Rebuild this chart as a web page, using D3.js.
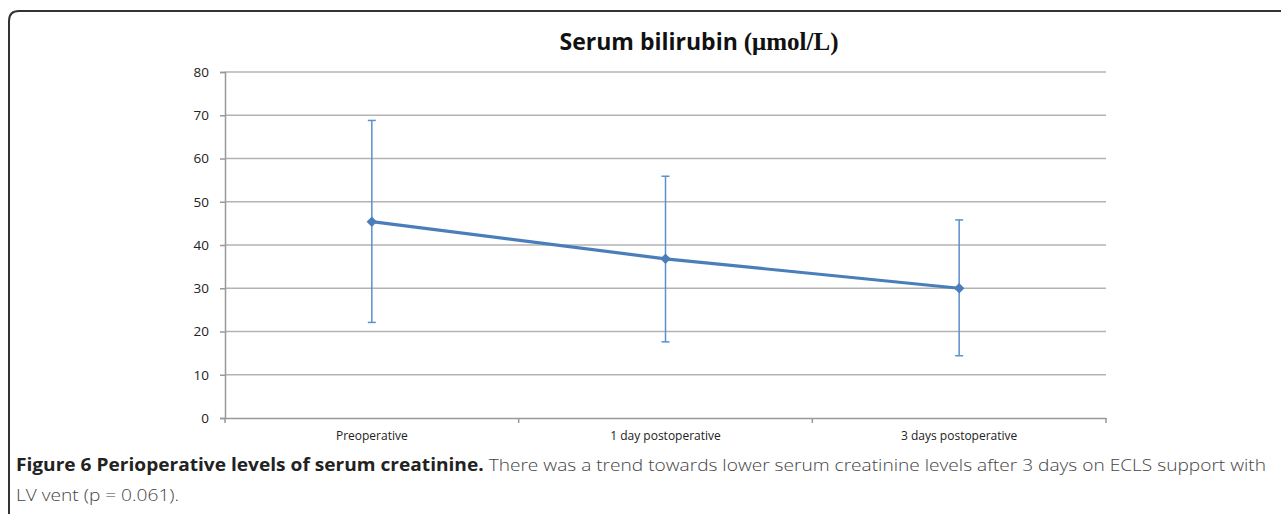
<!DOCTYPE html>
<html>
<head>
<meta charset="utf-8">
<script src="https://cdn.jsdelivr.net/npm/d3@7"></script>
<style>
  body { margin: 0; background: #fff; }
  svg { display: block; }
</style>
</head>
<body>
<svg id="chart" width="1281" height="514"></svg>
<script>
// data
const categories = ["Preoperative", "1 day postoperative", "3 days postoperative"];
const means = [45.4, 36.8, 30.0];
const upper = [68.8, 55.9, 45.8];
const lower = [22.1, 17.6, 14.4];
const yTicks = [0, 10, 20, 30, 40, 50, 60, 70, 80];

const svg = d3.select("#chart");

// outer frame (rounded box running off the right / bottom)
svg.append("path")
  .attr("d", "M9,530 L9,21 Q9,11 19,11 L1300,11")
  .attr("fill", "none")
  .attr("stroke", "#333")
  .attr("stroke-width", 2);

const margin = { left: 225, right: 1106, top: 72, bottom: 418 };

const x = d3.scaleBand()
  .domain(categories)
  .range([margin.left, margin.right]);

const y = d3.scaleLinear()
  .domain([0, 80])
  .range([margin.bottom, margin.top]);

// gridlines
svg.append("g")
  .selectAll("line")
  .data(yTicks.filter(d => d > 0))
  .join("line")
  .attr("x1", margin.left)
  .attr("x2", margin.right)
  .attr("y1", d => y(d))
  .attr("y2", d => y(d))
  .attr("stroke", "#b3b3b3")
  .attr("stroke-width", 1.5);

// y axis
const yAxis = svg.append("g")
  .attr("transform", "translate(" + margin.left + ",0)")
  .call(d3.axisLeft(y).tickValues(yTicks).tickSize(5).tickPadding(11));
yAxis.select(".domain").attr("stroke", "#999").attr("stroke-width", 1.5);
yAxis.selectAll(".tick line").attr("stroke", "#999").attr("stroke-width", 1.5);
yAxis.selectAll("text")
  .attr("font-family", "'Open Sans', sans-serif")
  .attr("font-size", 13.5)
  .attr("fill", "#222");

// x axis (ticks sit between categories)
const xAxis = svg.append("g")
  .attr("transform", "translate(0," + margin.bottom + ")")
  .call(d3.axisBottom(x).tickSize(0).tickPadding(13));
xAxis.select(".domain").attr("stroke", "#999").attr("stroke-width", 1.5);
xAxis.selectAll("text")
  .attr("font-family", "'Open Sans', sans-serif")
  .attr("font-size", 12)
  .attr("fill", "#222");
const bounds = categories.map(c => x(c)).concat([x(categories[categories.length - 1]) + x.bandwidth()]);
svg.append("g")
  .selectAll("line")
  .data(bounds)
  .join("line")
  .attr("x1", d => d)
  .attr("x2", d => d)
  .attr("y1", margin.bottom)
  .attr("y2", margin.bottom + 5)
  .attr("stroke", "#999")
  .attr("stroke-width", 1.5);

const cx = c => x(c) + x.bandwidth() / 2;

// error bars
const eb = svg.append("g").attr("stroke", "#5b8fcf").attr("stroke-width", 1.5);
categories.forEach((c, i) => {
  eb.append("line").attr("x1", cx(c)).attr("x2", cx(c)).attr("y1", y(upper[i])).attr("y2", y(lower[i]));
  eb.append("line").attr("x1", cx(c) - 4).attr("x2", cx(c) + 4).attr("y1", y(upper[i])).attr("y2", y(upper[i]));
  eb.append("line").attr("x1", cx(c) - 4).attr("x2", cx(c) + 4).attr("y1", y(lower[i])).attr("y2", y(lower[i]));
});

// mean line
const line = d3.line()
  .x((d, i) => cx(categories[i]))
  .y(d => y(d));
svg.append("path")
  .datum(means)
  .attr("d", line)
  .attr("fill", "none")
  .attr("stroke", "#4a7ebb")
  .attr("stroke-width", 3.2);

svg.append("g")
  .selectAll("path")
  .data(means)
  .join("path")
  .attr("d", d3.symbol(d3.symbolDiamond2, 70))
  .attr("transform", (d, i) => "translate(" + cx(categories[i]) + "," + y(d) + ")")
  .attr("fill", "#4a7ebb");

// title
const title = svg.append("text")
  .attr("x", 699)
  .attr("y", 50)
  .attr("text-anchor", "middle")
  .attr("font-weight", "bold")
  .attr("fill", "#111");
title.append("tspan").attr("font-family", "'Open Sans', sans-serif").attr("font-size", 23).text("Serum bilirubin ");
title.append("tspan").attr("font-family", "'Liberation Serif', serif").attr("font-size", 25).text("(μmol/L)");

// caption
const cap1 = svg.append("text")
  .attr("x", 16)
  .attr("y", 471)
  .attr("font-family", "'Open Sans', sans-serif")
  .attr("font-size", 17);
cap1.append("tspan").attr("font-weight", "bold").attr("fill", "#222")
  .text("Figure 6 Perioperative levels of serum creatinine.");
cap1.append("tspan").attr("font-weight", 300).attr("fill", "#444")
  .text(" There was a trend towards lower serum creatinine levels after 3 days on ECLS support with");
const natural = cap1.node().getComputedTextLength();
const target = 1250;
cap1.attr("textLength", target).attr("lengthAdjust", "spacingAndGlyphs");

const cap2 = svg.append("text")
  .attr("x", 16)
  .attr("y", 501)
  .attr("font-family", "'Open Sans', sans-serif")
  .attr("font-size", 17)
  .attr("font-weight", 300)
  .attr("fill", "#444")
  .text("LV vent (p = 0.061).");
const n2 = cap2.node().getComputedTextLength();
cap2.attr("textLength", n2 * target / natural).attr("lengthAdjust", "spacingAndGlyphs");
</script>
</body>
</html>
